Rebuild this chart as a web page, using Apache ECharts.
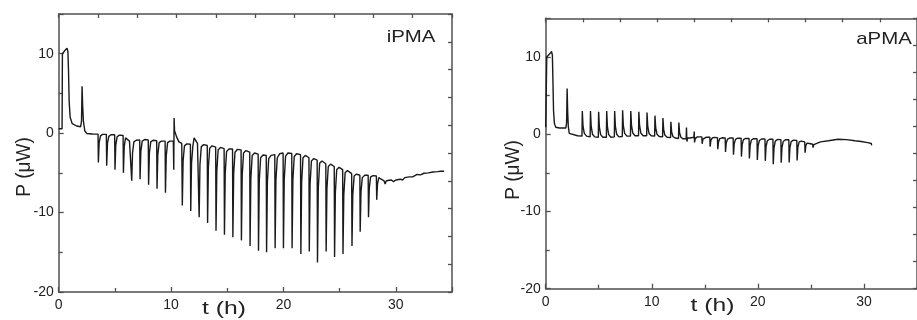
<!DOCTYPE html>
<html><head><meta charset="utf-8">
<script src="https://cdn.jsdelivr.net/npm/echarts@6/dist/echarts.min.js"></script>
<style>html,body{margin:0;padding:0;background:#fff}#c{width:917px;height:320px}</style>
</head><body><div id="c"></div>
<script>
// Panel labels and axis texts
const panelNames = ['iPMA', 'aPMA'];
const xAxisTitle = 't (h)';
const yAxisTitle = 'P (\u03bcW)';
const xRange = [0, 35];
const yRange = [-20, 15];

// iPMA trace [t (h), P (uW)]
const iPMA = [
[0.0,0.55],[0.3,0.55],[0.33,10.0],[0.45,10.05],[0.55,10.4],[0.64,10.65],[0.74,10.7],[0.82,10.3],[0.87,8.0],[0.93,4.0],[1.02,2.0],[1.2,1.2],[1.6,0.9],[1.95,0.8],[2.03,1.5],[2.08,5.9],[2.13,3.5],[2.2,1.5],[2.32,0.3],[2.5,-0.05],[3.0,-0.1],
[3.5,-0.12],[3.53,-3.7],[3.6,-1.2],[3.72,-0.35],[3.9,-0.15],
[4.24,-0.15],[4.27,-4.1],[4.34,-1.3],[4.46,-0.4],[4.65,-0.2],
[4.98,-0.2],[5.01,-4.6],[5.08,-1.5],[5.2,-0.45],[5.4,-0.25],
[5.73,-0.3],[5.76,-5.0],[5.83,-1.7],[5.95,-0.6],[6.1,-0.6],[6.3,-1.0],
[6.47,-1.1],[6.5,-6.0],[6.57,-2.5],[6.69,-1.1],[6.9,-0.9],
[7.21,-0.85],[7.24,-5.8],[7.31,-2.3],[7.43,-1.0],[7.65,-0.8],
[7.97,-0.85],[8.0,-6.5],[8.07,-2.5],[8.19,-1.1],[8.4,-0.9],
[8.72,-0.95],[8.75,-7.0],[8.82,-2.7],[8.94,-1.2],[9.15,-1.0],
[9.47,-1.0],[9.5,-7.5],[9.57,-2.9],[9.69,-1.2],[9.9,-1.0],
[10.2,-1.0],[10.24,-4.6],[10.27,1.9],[10.31,0.3],[10.36,0.4],[10.5,-0.5],[10.7,-1.1],[10.95,-1.3],
[10.97,-1.3],[11.0,-9.1],[11.07,-3.5],[11.19,-1.6],[11.4,-1.35],
[11.72,-1.4],[11.75,-9.8],[11.82,-3.8],[11.94,-1.6],[12.05,-0.6],[12.15,-0.8],[12.35,-1.3],
[12.47,-1.4],[12.5,-10.6],[12.57,-4.0],[12.69,-1.7],[12.9,-1.45],
[13.22,-1.55],[13.25,-11.3],[13.32,-4.3],[13.44,-1.9],[13.65,-1.6],
[13.97,-1.75],[14.0,-12.3],[14.07,-4.8],[14.19,-2.1],[14.4,-1.8],
[14.72,-1.95],[14.75,-12.8],[14.82,-5.0],[14.94,-2.3],[15.15,-2.0],
[15.47,-2.0],[15.5,-13.1],[15.57,-5.1],[15.69,-2.4],[15.9,-2.05],
[16.23,-2.1],[16.26,-13.5],[16.33,-5.3],[16.45,-2.5],[16.66,-2.2],
[17.0,-2.4],[17.03,-14.2],[17.1,-5.7],[17.22,-2.8],[17.43,-2.5],
[17.75,-2.65],[17.78,-14.8],[17.85,-6.0],[17.97,-3.1],[18.18,-2.75],
[18.47,-2.8],[18.5,-15.0],[18.57,-6.2],[18.69,-3.2],[18.9,-2.8],
[19.23,-2.7],[19.26,-14.5],[19.33,-6.0],[19.45,-3.1],[19.66,-2.6],
[19.97,-2.5],[20.0,-14.5],[20.07,-5.9],[20.19,-2.9],[20.4,-2.5],
[20.74,-2.55],[20.77,-14.5],[20.84,-5.9],[20.96,-2.95],[21.17,-2.6],
[21.52,-2.7],[21.55,-15.2],[21.62,-6.2],[21.74,-3.1],[21.95,-2.8],
[22.27,-3.1],[22.3,-14.9],[22.37,-6.4],[22.49,-3.5],[22.7,-3.2],
[23.0,-3.4],[23.03,-16.3],[23.1,-7.0],[23.22,-3.8],[23.43,-3.5],
[23.77,-3.85],[23.8,-14.9],[23.87,-7.0],[23.99,-4.2],[24.2,-3.9],
[24.52,-4.2],[24.55,-15.6],[24.62,-7.5],[24.74,-4.6],[24.95,-4.3],
[25.27,-4.6],[25.3,-15.2],[25.37,-7.8],[25.49,-5.0],[25.7,-4.7],
[26.07,-5.1],[26.1,-14.2],[26.17,-7.8],[26.29,-5.4],[26.5,-5.15],
[26.8,-5.3],[26.83,-12.4],[26.9,-7.4],[27.02,-5.6],[27.23,-5.3],
[27.54,-5.3],[27.57,-10.6],[27.64,-6.9],[27.76,-5.5],[27.97,-5.35],
[28.27,-5.4],[28.3,-8.4],[28.37,-6.4],[28.49,-5.6],[28.7,-5.8],
[28.95,-6.0],[29.05,-6.4],[29.15,-6.0],[29.6,-5.9],[29.8,-6.1],[30.0,-5.9],[30.4,-5.8],[30.6,-5.9],[30.8,-5.6],[31.2,-5.5],[31.5,-5.5],[31.9,-5.2],[32.2,-5.25],[32.5,-5.05],[32.9,-5.0],[33.3,-4.9],[33.7,-4.85],[34.0,-4.8],[34.3,-4.8]
];

// aPMA trace [t (h), P (uW)]
const aPMA = [
[0.0,0.9],[0.08,0.9],[0.1,10.0],[0.25,10.05],[0.38,10.4],[0.48,10.65],[0.56,10.7],[0.63,10.2],[0.68,7.0],[0.74,3.0],[0.82,1.4],[0.95,0.9],[1.3,0.8],[1.9,0.8],[1.97,1.5],[2.02,5.9],[2.07,3.0],[2.13,1.0],[2.22,0.1],[2.4,-0.15],[3.0,-0.2],
[3.42,-0.25],[3.45,3.0],[3.52,1.0],[3.64,0.1],[3.85,-0.25],
[4.19,-0.35],[4.22,3.0],[4.29,1.0],[4.41,0.0],[4.62,-0.35],
[4.96,-0.4],[4.99,2.9],[5.06,0.9],[5.18,-0.05],[5.39,-0.4],
[5.72,-0.4],[5.75,3.0],[5.82,0.9],[5.94,-0.05],[6.15,-0.4],
[6.47,-0.35],[6.5,3.0],[6.57,1.0],[6.69,0.0],[6.9,-0.35],
[7.22,-0.3],[7.25,3.1],[7.32,1.1],[7.44,0.1],[7.65,-0.25],
[7.99,-0.25],[8.02,3.0],[8.09,1.1],[8.21,0.15],[8.42,-0.2],
[8.75,-0.2],[8.78,2.9],[8.85,1.1],[8.97,0.15],[9.18,-0.2],
[9.52,-0.2],[9.55,2.8],[9.62,1.0],[9.74,0.1],[9.95,-0.2],
[10.27,-0.25],[10.3,2.4],[10.37,0.8],[10.49,0.0],[10.7,-0.3],
[11.02,-0.35],[11.05,2.1],[11.12,0.6],[11.24,-0.15],[11.45,-0.4],
[11.77,-0.45],[11.8,1.6],[11.87,0.3],[11.99,-0.3],[12.2,-0.5],
[12.52,-0.55],[12.55,1.5],[12.62,0.2],[12.74,-0.4],[12.95,-0.6],
[13.24,-0.6],[13.27,0.85],[13.31,-0.95],[13.38,-0.5],[13.6,-0.5],
[13.97,-0.4],[14.0,0.35],[14.03,-1.07],[14.1,-0.55],[14.3,-0.35],
[14.72,-0.35],[14.75,-1.25],[14.82,-0.65],[14.94,-0.42],[15.15,-0.38],
[15.47,-0.4],[15.5,-1.6],[15.57,-0.8],[15.69,-0.5],[15.9,-0.42],
[16.19,-0.45],[16.22,-1.95],[16.29,-1.0],[16.41,-0.57],[16.62,-0.47],
[16.92,-0.5],[16.95,-2.3],[17.02,-1.1],[17.14,-0.65],[17.35,-0.5],
[17.67,-0.5],[17.7,-2.65],[17.77,-1.25],[17.89,-0.67],[18.1,-0.52],
[18.42,-0.52],[18.45,-2.9],[18.52,-1.35],[18.64,-0.7],[18.85,-0.55],
[19.17,-0.55],[19.2,-3.15],[19.27,-1.45],[19.39,-0.75],[19.6,-0.58],
[19.92,-0.6],[19.95,-3.35],[20.02,-1.55],[20.14,-0.82],[20.35,-0.62],
[20.67,-0.62],[20.7,-3.45],[20.77,-1.6],[20.89,-0.85],[21.1,-0.65],
[21.42,-0.65],[21.45,-3.9],[21.52,-1.8],[21.64,-0.9],[21.85,-0.68],
[22.17,-0.7],[22.2,-3.7],[22.27,-1.75],[22.39,-0.95],[22.6,-0.72],
[22.92,-0.72],[22.95,-3.65],[23.02,-1.75],[23.14,-0.95],[23.35,-0.78],
[23.67,-0.8],[23.7,-3.4],[23.77,-1.7],[23.89,-1.0],[24.1,-0.9],
[24.42,-1.0],[24.45,-2.4],[24.52,-1.5],[24.64,-1.15],[24.85,-1.2],
[25.17,-1.3],[25.2,-1.75],[25.27,-1.35],[25.45,-1.1],
[25.9,-1.0],[25.95,-1.25],[26.0,-0.95],[26.65,-0.85],[26.7,-1.1],[26.75,-0.8],[27.55,-0.65],[27.6,-0.85],[27.65,-0.65],[28.35,-0.7],[28.4,-0.95],[28.45,-0.72],[29.15,-0.85],[29.2,-1.05],[29.25,-0.88],[29.75,-0.95],[29.8,-1.2],[29.85,-1.0],[30.35,-1.1],[30.4,-1.35],[30.45,-1.15],[30.7,-1.2],[30.72,-1.45],[30.76,-1.3]
];

const traces = [iPMA, aPMA];

const chart = echarts.init(document.getElementById('c'), null, {renderer: 'canvas'});
const FONT = 'Liberation Sans, Arial, sans-serif';
const AX = '#505050';
const grids = [
  {left: 58.7, top: 14, width: 393.3, height: 278},
  {left: 545.7, top: 18.3, width: 381, height: 270.4}
];
const labelMargins = [{x: 6, y: 5}, {x: 6, y: 5}];

const xAxes = [], yAxes = [], series = [];
grids.forEach((g, i) => {
  xAxes.push({
    gridIndex: i, type: 'value', position: 'bottom', min: xRange[0], max: xRange[1], interval: 10,
    axisLine: {onZero: false, lineStyle: {color: AX, width: 1.5}},
    axisTick: {inside: true, length: 5, lineStyle: {color: AX, width: 1.3}},
    minorTick: {show: true, splitNumber: 2, length: 4, lineStyle: {color: AX, width: 1.3}},
    axisLabel: {fontFamily: FONT, fontSize: 14, color: '#222', margin: labelMargins[i].x, showMaxLabel: false},
    splitLine: {show: false}
  });
  xAxes.push({
    gridIndex: i, type: 'value', position: 'top', min: 0, max: 10, interval: 1,
    axisLine: {onZero: false, lineStyle: {color: AX, width: 1.5}},
    axisTick: {inside: true, length: 4, lineStyle: {color: AX, width: 1.3}},
    axisLabel: {show: false}, splitLine: {show: false}
  });
  yAxes.push({
    gridIndex: i, type: 'value', position: 'left', min: yRange[0], max: yRange[1], interval: 10,
    axisLine: {onZero: false, lineStyle: {color: AX, width: 1.5}},
    axisTick: {inside: true, length: 5, lineStyle: {color: AX, width: 1.3}},
    minorTick: {show: true, splitNumber: 2, length: 4, lineStyle: {color: AX, width: 1.3}},
    axisLabel: {fontFamily: FONT, fontSize: 14, color: '#222', margin: labelMargins[i].y, showMaxLabel: false},
    splitLine: {show: false}
  });
  yAxes.push({
    gridIndex: i, type: 'value', position: 'right', min: 0, max: 10, interval: 1,
    axisLine: {onZero: false, lineStyle: {color: AX, width: 1.5}},
    axisTick: {inside: true, length: 4, lineStyle: {color: AX, width: 1.3}},
    axisLabel: {show: false}, splitLine: {show: false}
  });
  series.push({
    type: 'line', name: panelNames[i], xAxisIndex: 2 * i, yAxisIndex: 2 * i,
    data: traces[i], showSymbol: false, symbol: 'none', smooth: false,
    lineStyle: {color: '#1a1a1a', width: 1.4}, animation: false
  });
});

const textStyle = (size) => ({fill: '#222', font: size + 'px ' + FONT, textAlign: 'center', textVerticalAlign: 'middle'});
const graphic = [
  {type: 'text', x: 411, y: 37, scaleX: 1.2, style: Object.assign({text: panelNames[0]}, textStyle(17))},
  {type: 'text', x: 884, y: 39, scaleX: 1.2, style: Object.assign({text: panelNames[1]}, textStyle(17))},
  {type: 'text', x: 224, y: 309, scaleX: 1.3, style: Object.assign({text: xAxisTitle}, textStyle(19))},
  {type: 'text', x: 712.5, y: 306, scaleX: 1.3, style: Object.assign({text: xAxisTitle}, textStyle(19))},
  {type: 'text', x: 24, y: 167, rotation: Math.PI / 2, scaleY: 1.1, style: Object.assign({text: yAxisTitle}, textStyle(19))},
  {type: 'text', x: 513, y: 170, rotation: Math.PI / 2, scaleY: 1.1, style: Object.assign({text: yAxisTitle}, textStyle(19))}
];

chart.setOption({
  animation: false,
  backgroundColor: '#fff',
  grid: grids.map(g => Object.assign({containLabel: false}, g)),
  xAxis: xAxes, yAxis: yAxes, series: series, graphic: graphic
});
</script></body></html>
